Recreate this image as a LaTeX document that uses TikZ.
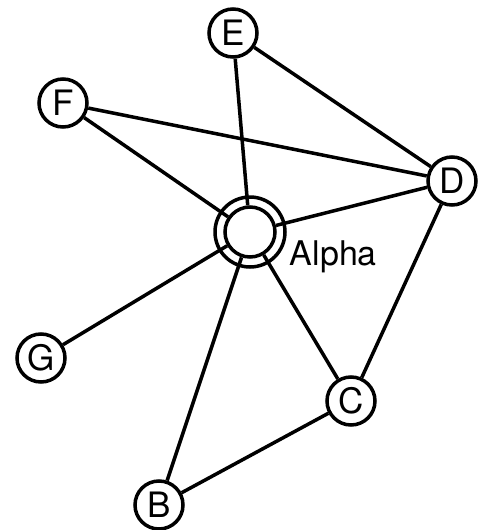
\documentclass[tikz,border=0pt]{standalone}
\usepackage{fontspec}
\setmainfont{TeX Gyre Heros}
\usepackage{tikz}
\usetikzlibrary{positioning}

\begin{document}
\begin{tikzpicture}[
    x=1pt, y=-1pt,
    station/.style={draw, circle, line width=3.5pt, minimum size=48pt, inner sep=0pt,
                    font=\fontsize{35}{40}\selectfont},
    hub/.style={draw, circle, line width=3.5pt, minimum size=50pt, inner sep=0pt},
    link/.style={line width=3.5pt}
]
\useasboundingbox (0,0) rectangle (485,530);

% Hub
\node[hub] (alpha) at (250,232) {};
\draw[line width=3.5pt] (alpha.center) circle (35pt);
\node[right=0pt of alpha, xshift=13pt, yshift=-25pt, font=\fontsize{34}{38}\selectfont,
      inner sep=0pt] (alphalbl) {Alpha};

% Outer stations
\node[station] (e) at (233,33) {E};
\node[station] (f) at (63,103) {F};
\node[station] (d) at (452,181) {D};
\node[station] (g) at (41,358) {G};
\node[station] (c) at (351,401) {C};
\node[station] (b) at (159,505) {B};

% Links
\draw[link] (e) -- (alpha);
\draw[link] (e) -- (d);
\draw[link] (f) -- (d);
\draw[link] (f) -- (alpha);
\draw[link] (d) -- (alpha);
\draw[link] (d) -- (c);
\draw[link] (g) -- (alpha);
\draw[link] (b) -- (alpha);
\draw[link] (c) -- (alpha);
\draw[link] (b) -- (c);

\end{tikzpicture}
\end{document}
